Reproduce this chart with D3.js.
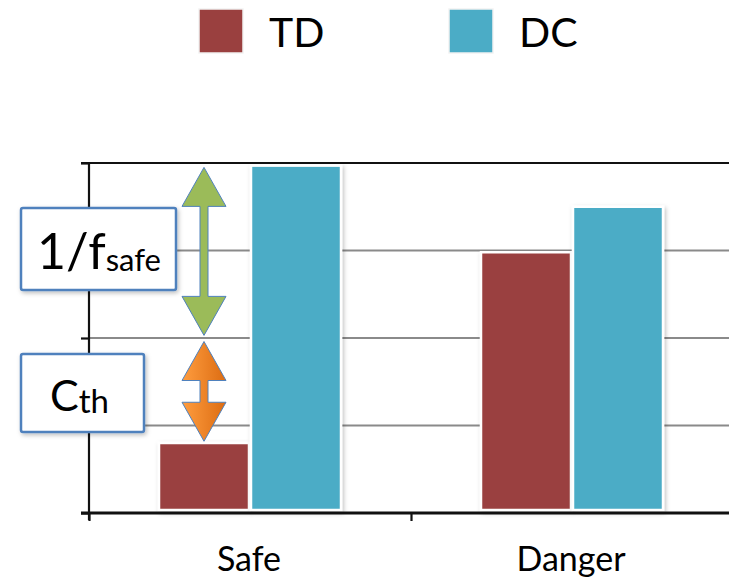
<!DOCTYPE html>
<html><head><meta charset="utf-8">
<script src="https://cdn.jsdelivr.net/npm/d3@7"></script>
<style>html,body{margin:0;padding:0;background:#fff}svg{display:block}</style>
</head><body>
<script>
const categories = ["Safe", "Danger"];
const seriesNames = ["TD", "DC"];
const tdValues = [0.8, 2.98];
const dcValues = [3.97, 3.5];
const yTicks = [0, 1, 2, 3, 4];
const colors = {TD: "#9A403F", DC: "#4BACC6"};
// annotation ranges (data units) for the two double arrows over the Safe group
const fsafeRange = [2.03, 3.95];
const cthRange = [0.82, 1.96];

const W = 729, H = 579;
const svg = d3.select("body").append("svg").attr("width", W).attr("height", H);
const defs = svg.append("defs");
const sh = defs.append("filter").attr("id","sh").attr("x","-10%").attr("y","-10%").attr("width","130%").attr("height","130%");
sh.append("feDropShadow").attr("dx",1.5).attr("dy",2).attr("stdDeviation",2).attr("flood-color","#000").attr("flood-opacity",0.25);
const og = defs.append("linearGradient").attr("id","og").attr("x1","0").attr("x2","1").attr("y1","0").attr("y2","0");
og.append("stop").attr("offset","0").attr("stop-color","#FF9D3F");
og.append("stop").attr("offset","1").attr("stop-color","#DC6C12");

const x0 = d3.scaleBand().domain(categories).range([89, 733]).padding(0);
const x1 = d3.scaleBand().domain(seriesNames).range([69, 253]).padding(0);
const y = d3.scaleLinear().domain([0, 4]).range([513, 163]);

// gridlines
svg.append("g").selectAll("line").data(yTicks.slice(1, -1)).join("line")
  .attr("x1", 89).attr("x2", W).attr("y1", d => y(d)).attr("y2", d => y(d))
  .attr("stroke", "#8a8a8a").attr("stroke-width", 2.2);
// top line
svg.append("line").attr("x1", 81).attr("x2", W).attr("y1", y(4)).attr("y2", y(4))
  .attr("stroke", "#111").attr("stroke-width", 2.2);

// left axis
const yAxis = d3.axisLeft(y).tickValues(yTicks).tickSize(8).tickFormat("");
const ga = svg.append("g").attr("transform", "translate(89,0)").call(yAxis);
ga.select(".domain").attr("stroke", "#111").attr("stroke-width", 2.2).attr("d", `M0,${y(4)}V520`);
ga.selectAll(".tick line").attr("stroke", "#111").attr("stroke-width", 2.2);

// bars
const rows = categories.map((c, i) => ({cat: c, vals: [{s: "TD", v: tdValues[i]}, {s: "DC", v: dcValues[i]}]}));
const gBars = svg.append("g");
rows.forEach(r => {
  gBars.append("g").attr("transform", `translate(${x0(r.cat)},0)`)
    .selectAll("rect").data(r.vals).join("rect")
    .attr("x", d => x1(d.s) + 1).attr("width", x1.bandwidth() - 2)
    .attr("y", d => y(d.v)).attr("height", d => y(0) - 3 - y(d.v))
    .attr("fill", d => colors[d.s]).attr("stroke", "#fff").attr("stroke-width", 2.5)
    .attr("filter", "url(#sh)");
});

// bottom axis
const xAxisScale = d3.scaleLinear().domain([0, 2]).range([89, 733]);
const gx = svg.append("g").attr("transform", `translate(0,${y(0)})`)
  .call(d3.axisBottom(xAxisScale).tickValues([0, 1, 2]).tickSize(8).tickFormat(""));
gx.select(".domain").attr("stroke", "#111").attr("stroke-width", 3.2).attr("d", `M81,0H${W}`);
gx.selectAll(".tick line").attr("stroke", "#111").attr("stroke-width", 2.2);

// category labels
svg.append("g").selectAll("text").data(categories).join("text")
  .attr("x", d => x0(d) + x0.bandwidth() / 2 - 1).attr("y", 571)
  .attr("text-anchor", "middle").attr("font-family", "Lato, 'Open Sans', sans-serif")
  .attr("font-size", 34).attr("fill", "#000").text(d => d);

// legend
const lg = svg.append("g");
const legX = [199, 449];
seriesNames.forEach((s, i) => {
  lg.append("rect").attr("x", legX[i]).attr("y", 9).attr("width", 44).attr("height", 44)
    .attr("fill", colors[s]).attr("stroke", "#f2f2f2").attr("stroke-width", 1.5);
  lg.append("text").attr("x", legX[i] + 70).attr("y", 47).attr("font-family", "Lato, 'Open Sans', sans-serif")
    .attr("font-size", 41).attr("fill", "#000").text(s);
});

// double arrows
function dblArrow(cx, yTop, yBot, hl) {
  const hw = 22, sw = 4;
  return `M${cx},${yTop}L${cx+hw},${yTop+hl}L${cx+sw},${yTop+hl}L${cx+sw},${yBot-hl}L${cx+hw},${yBot-hl}L${cx},${yBot}` +
         `L${cx-hw},${yBot-hl}L${cx-sw},${yBot-hl}L${cx-sw},${yTop+hl}L${cx-hw},${yTop+hl}Z`;
}
const ax = x0("Safe") + x1("TD") + x1.bandwidth() / 2;
svg.append("path").attr("d", dblArrow(ax, y(fsafeRange[1]), y(fsafeRange[0]), 39))
  .attr("fill", "#9BBB59").attr("stroke", "#4F81BD").attr("stroke-width", 1);
svg.append("path").attr("d", dblArrow(ax, y(cthRange[1]), y(cthRange[0]), 39))
  .attr("fill", "url(#og)").attr("stroke", "#4F81BD").attr("stroke-width", 1);

// label boxes
const font2 = "Lato, 'Noto Sans', sans-serif";
svg.append("rect").attr("x", 21).attr("y", 208).attr("width", 155).attr("height", 82).attr("rx", 2)
  .attr("fill", "#fff").attr("stroke", "#4F81BD").attr("stroke-width", 2.5).attr("filter", "url(#sh)");
const t1 = svg.append("text").attr("x", 37).attr("y", 269).attr("font-family", font2).attr("fill", "#000");
t1.append("tspan").attr("font-size", 50).text("1/f");
t1.append("tspan").attr("font-size", 31).attr("dy", 2).text("safe");

svg.append("rect").attr("x", 21).attr("y", 354).attr("width", 123).attr("height", 78).attr("rx", 2)
  .attr("fill", "#fff").attr("stroke", "#4F81BD").attr("stroke-width", 2.5).attr("filter", "url(#sh)");
const t2 = svg.append("text").attr("x", 50).attr("y", 411).attr("font-family", font2).attr("fill", "#000");
t2.append("tspan").attr("font-size", 43).text("C");
t2.append("tspan").attr("font-size", 33).attr("dy", 2).text("th");
</script>
</body></html>
